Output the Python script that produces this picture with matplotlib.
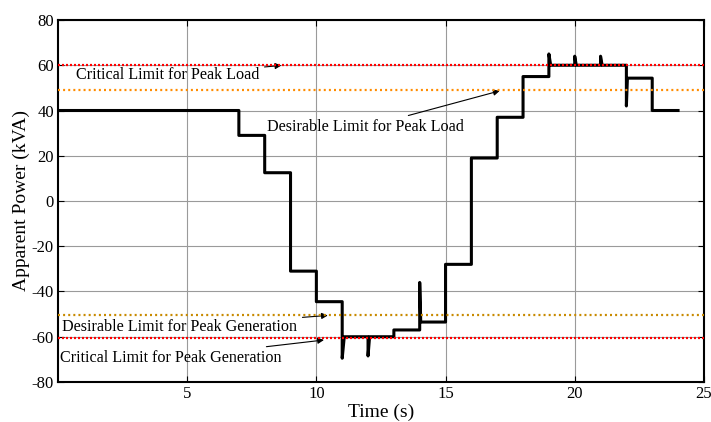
import matplotlib
matplotlib.use("Agg")
import matplotlib.pyplot as plt

# Step profile of apparent power (with switching transients)
time_s = [0, 7, 7, 8, 8, 9, 9, 10, 10, 11, 11, 11.08, 12, 12, 12.06, 13, 13, 14, 14, 14.04, 15, 15,
          16, 16, 17, 17, 18, 18, 19, 19, 19.07, 20, 20, 20.06, 21, 21, 21.06, 22, 22, 22.04, 23, 23, 24]
power_kva = [40, 40, 29, 29, 12.5, 12.5, -31, -31, -44.5, -44.5, -69.5, -60, -60, -68.5, -60, -60, -57, -57, -36, -53.5, -53.5, -28,
             -28, 19, 19, 37, 37, 55, 55, 65, 60, 60, 64, 60, 60, 64, 60, 60, 42, 54.3, 54.3, 40, 40]

crit_load = 60
desir_load = 49
desir_gen = -50.5
crit_gen = -60.5

xticks = [5, 10, 15, 20, 25]
yticks = [-80, -60, -40, -20, 0, 20, 40, 60, 80]

plt.rcParams['font.family'] = ['Liberation Serif', 'DejaVu Serif']
plt.rcParams['axes.unicode_minus'] = False
fig = plt.figure(figsize=(7.11, 4.22), dpi=100)
ax = fig.add_axes([0.0816, 0.0948, 0.9084, 0.8578])

ax.grid(True, color='#9a9a9a', linewidth=0.8)
ax.set_axisbelow(True)
ax.plot(time_s, power_kva, color='black', linewidth=2.2, zorder=3)

ax.axhline(desir_load, color='#FF8C00', linestyle=(0, (0.9, 1.4)), linewidth=1.6, zorder=4)
ax.axhline(desir_gen, color='#C88A00', linestyle=(0, (0.9, 1.4)), linewidth=1.6, zorder=4)
ax.axhline(crit_load, color='#FF0000', linestyle=(0, (0.9, 0.9)), linewidth=1.6, zorder=4)
ax.axhline(crit_gen, color='#FF0000', linestyle=(0, (0.9, 0.9)), linewidth=1.6, zorder=4)

ax.set_xlim(0, 25)
ax.set_ylim(-80, 80)
ax.set_xticks(xticks)
ax.set_yticks(yticks)
ax.tick_params(direction='in', top=True, right=True, labelsize=12, length=4, width=0.8, pad=3)
for s in ax.spines.values():
    s.set_linewidth(1.5)

ax.set_xlabel('Time (s)', fontsize=14, labelpad=1)
ax.set_ylabel('Apparent Power (kVA)', fontsize=14, labelpad=1)

arrow = dict(arrowstyle='-|>', color='black', lw=0.8, mutation_scale=9)
fs = 11.6
ax.annotate('Critical Limit for Peak Load', xy=(8.75, crit_load), xytext=(0.68, 55.5),
            fontsize=fs, ha='left', va='center', arrowprops=arrow)
ax.annotate('Desirable Limit for Peak Load', xy=(17.2, desir_load), xytext=(8.1, 32.7),
            fontsize=fs, ha='left', va='center', arrowprops=arrow)
ax.annotate('Desirable Limit for Peak Generation', xy=(10.55, desir_gen), xytext=(0.15, -55.5),
            fontsize=fs, ha='left', va='center', arrowprops=arrow)
ax.annotate('Critical Limit for Peak Generation', xy=(10.4, -61.3), xytext=(0.08, -69.3),
            fontsize=fs, ha='left', va='center', arrowprops=arrow)

fig.savefig('out.png', dpi=100)
